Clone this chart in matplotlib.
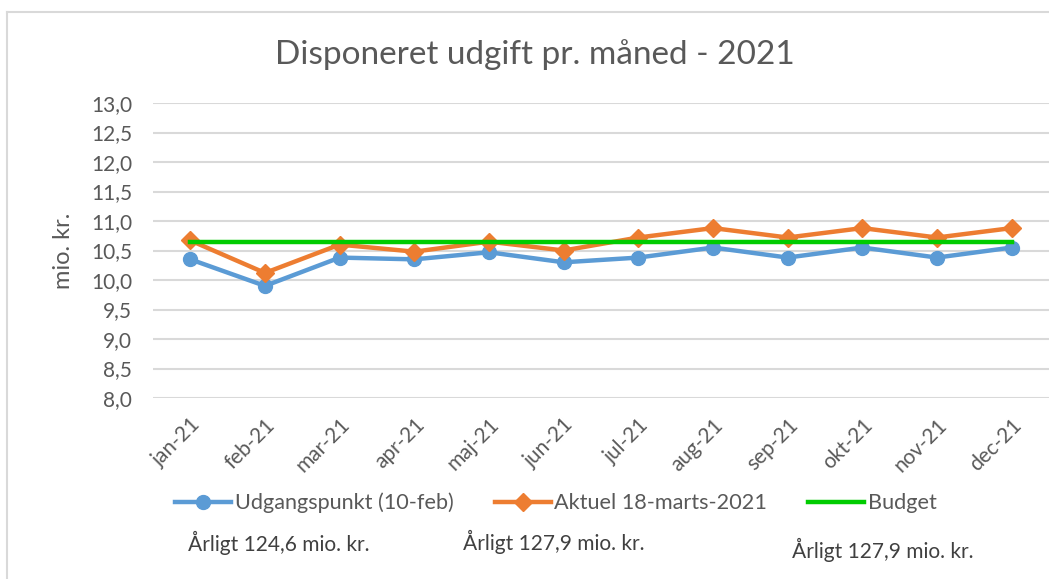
import matplotlib.pyplot as plt
import numpy as np

# data
months = ['jan-21', 'feb-21', 'mar-21', 'apr-21', 'maj-21', 'jun-21',
          'jul-21', 'aug-21', 'sep-21', 'okt-21', 'nov-21', 'dec-21']
udgangspunkt = [10.35, 9.90, 10.38, 10.35, 10.47, 10.30, 10.38, 10.55, 10.38, 10.55, 10.38, 10.55]
aktuel = [10.67, 10.12, 10.60, 10.48, 10.65, 10.50, 10.72, 10.88, 10.72, 10.88, 10.72, 10.88]
budget = [10.65] * 12
yticks = [8.0, 8.5, 9.0, 9.5, 10.0, 10.5, 11.0, 11.5, 12.0, 12.5, 13.0]
notes = ['Årligt 124,6 mio. kr.', 'Årligt 127,9 mio. kr.', 'Årligt 127,9 mio. kr.']

plt.rcParams['font.family'] = ['Lato', 'DejaVu Sans']

W, H = 1049, 579
fig = plt.figure(figsize=(W / 100, H / 100), dpi=100)
ax = fig.add_axes([153 / W, 1 - 398 / H, 1 - 153 / W, (398 - 103) / H])

x = np.arange(len(months))
ax.plot(x, udgangspunkt, '-o', color='#5B9BD5', lw=3.2, ms=10, label='Udgangspunkt (10-feb)', zorder=3)
ax.plot(x, aktuel, '-D', color='#ED7D31', lw=3.2, ms=9, label='Aktuel 18-marts-2021', zorder=4)
ax.plot(x, budget, '-', color='#00CC00', lw=3.2, label='Budget', zorder=5)

ax.set_xlim(-0.5, len(months) - 0.5)
ax.set_ylim(8, 13)
ax.set_yticks(yticks)
ax.set_yticklabels([f'{v:.1f}'.replace('.', ',') for v in yticks], fontsize=15, color='#595959')
ax.set_xticks(x)
ax.set_xticklabels(months, rotation=45, ha='right', rotation_mode='anchor', fontsize=15, color='#595959')
ax.tick_params(length=0, pad=15, axis='y')
ax.tick_params(length=0, pad=12, axis='x')
ax.grid(axis='y', color='#D9D9D9', lw=1.5)
ax.set_axisbelow(True)
for s in ax.spines.values():
    s.set_visible(False)
ax.set_ylabel('mio. kr.', fontsize=17, color='#595959', labelpad=12)

fig.text(535 / W, 1 - 55 / H, 'Disponeret udgift pr. måned - 2021', ha='center', va='center',
         fontsize=24, color='#595959')

fig.legend(loc='center left', bbox_to_anchor=(175 / W, 1 - 503 / H), ncol=3, frameon=False,
           fontsize=15.6, handlelength=2.6, handletextpad=0.15, columnspacing=1.9,
           labelcolor='#595959', borderaxespad=0, borderpad=0)

note_pos = [(188, 543), (463, 542), (792, 550)]
for (px, py), t in zip(note_pos, notes):
    fig.text(px / W, 1 - py / H, t, ha='left', va='center', fontsize=15, color='#404040')

# chart border (partly cropped in the reference)
fig.add_artist(plt.Line2D([7 / W, 7 / W], [0, 1 - 12 / H], color='#D9D9D9', lw=1.5))
fig.add_artist(plt.Line2D([7 / W, 1], [1 - 12 / H, 1 - 12 / H], color='#D9D9D9', lw=1.5))

fig.savefig('out.png', dpi=100)
